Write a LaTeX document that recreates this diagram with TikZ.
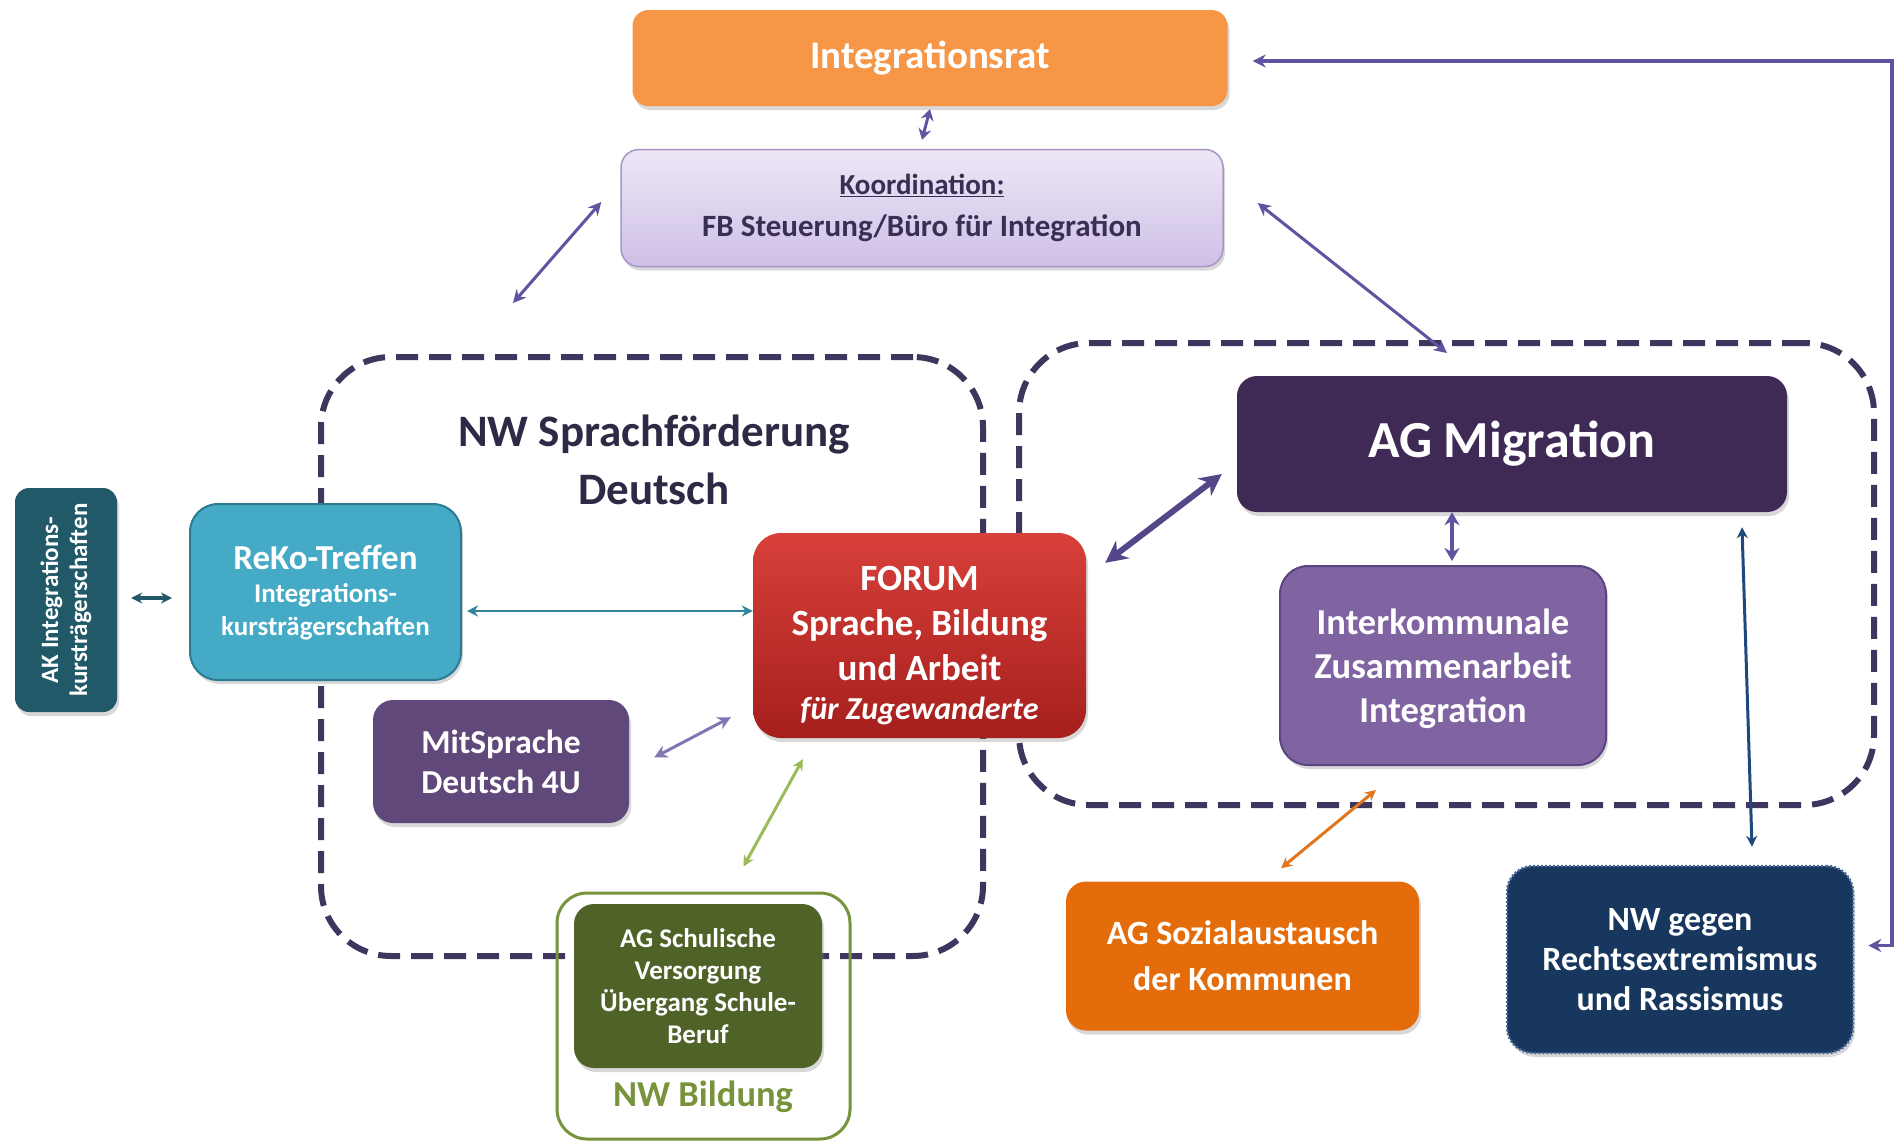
\documentclass[tikz,border=0pt]{standalone}
\usepackage{fontspec}
\setmainfont{Carlito}
\usetikzlibrary{arrows.meta,calc,shadows}
\definecolor{ratorange}{HTML}{F79646}
\definecolor{koordtop}{HTML}{EEE7F7}
\definecolor{koordbot}{HTML}{CEC0E6}
\definecolor{koordline}{HTML}{A796C8}
\definecolor{koordtext}{HTML}{3B2E55}
\definecolor{dashcol}{HTML}{3F365F}
\definecolor{migdark}{HTML}{3E2A55}
\definecolor{interkcol}{HTML}{8064A2}
\definecolor{interkline}{HTML}{5C4580}
\definecolor{forumtop}{HTML}{D8403A}
\definecolor{forumbot}{HTML}{A51F1D}
\definecolor{rekocol}{HTML}{45AAC6}
\definecolor{rekoline}{HTML}{2B7C93}
\definecolor{akcol}{HTML}{215968}
\definecolor{mitcol}{HTML}{60497A}
\definecolor{schulcol}{HTML}{4F6228}
\definecolor{bildline}{HTML}{77933C}
\definecolor{sozcol}{HTML}{E46C0A}
\definecolor{nwgcol}{HTML}{17375E}
\definecolor{nwgline}{HTML}{4A6A95}
\definecolor{arrpurple}{HTML}{6352A0}
\definecolor{arrteal}{HTML}{31849B}
\definecolor{arrgreen}{HTML}{9BBB59}
\definecolor{arrorange}{HTML}{E2761E}
\definecolor{arrnavy}{HTML}{1F497D}
\definecolor{titletext}{HTML}{2E2944}
\newcommand{\fsz}[2]{\fontsize{#1}{#2}\selectfont}
\begin{document}
\begin{tikzpicture}[x=1pt,y=-1pt,
  box/.style={rounded corners=20pt, align=center, text=white, inner sep=0pt,
    font=\bfseries, drop shadow={shadow xshift=2pt, shadow yshift=-4pt, opacity=0.3}},
  grp/.style={draw=dashcol, line width=6pt, dash pattern=on 22pt off 11pt, rounded corners=70pt, inner sep=0pt},
  arr/.style={line width=3pt, draw=arrpurple, arrows={Stealth[length=13pt,width=13pt]-Stealth[length=13pt,width=13pt]}},
  thinarr/.style={line width=2.4pt, arrows={Stealth[length=11pt,width=11pt]-Stealth[length=11pt,width=11pt]}},
  bigarr/.style={line width=6pt, draw=arrpurple!85!black, arrows={Stealth[length=22pt,width=22pt]-Stealth[length=22pt,width=22pt]}}
]
\fill[white] (0,0) rectangle (1898,1143);
\useasboundingbox (0,0) rectangle (1898,1143);

% dashed groups
\node[grp, minimum width=662pt, minimum height=599pt] (sprgrp) at (652,656.5) {};
\node[grp, minimum width=855pt, minimum height=462pt] (miggrp) at (1446.5,574) {};
\node[text=titletext, align=center, font=\bfseries\fsz{45}{58}] (sprtitle) at (654,460) {NW Sprachförderung\\Deutsch};

% top
\node[box, fill=ratorange, rounded corners=16pt, minimum width=595pt, minimum height=96pt, font=\bfseries\fsz{39}{40}] (rat) at (930,58) {Integrationsrat};
\node[box, top color=koordtop, bottom color=koordbot, draw=koordline, line width=1.5pt, rounded corners=18pt,
  minimum width=602pt, minimum height=117pt, text=koordtext, font=\bfseries\fsz{31}{42}] (koord) at (922,208)
  {{\fsz{29}{42}\underline{Koordination:}}\\FB Steuerung/Büro für Integration};

% AG Migration side
\node[box, fill=migdark, minimum width=550pt, minimum height=136pt, font=\bfseries\fsz{52}{54}] (mig) at (1512,444) {AG Migration};
\node[box, fill=interkcol, draw=interkline, line width=2pt, rounded corners=28pt, minimum width=326pt, minimum height=199pt,
  font=\bfseries\fsz{36.5}{44}] (interk) at (1443,665.5) {\rule{0pt}{32pt}Interkommunale\\Zusammenarbeit\\Integration};

% left side
\node[box, fill=akcol, rounded corners=14pt, minimum width=102pt, minimum height=224pt] (ak) at (66,600) {};
\node[rotate=90, text=white, align=center, font=\bfseries\fsz{25}{29}] (aktext) at (ak.center) {AK Integrations-\\kursträgerschaften};
\node[box, fill=rekocol, draw=rekoline, line width=2pt, rounded corners=28pt, minimum width=271pt, minimum height=176pt,
  font=\bfseries\fsz{27}{33}] (reko) at (325.5,592) {{\fsz{35}{36}ReKo-Treffen}\\Integrations-\\kursträgerschaften};
\node[box, top color=forumtop, bottom color=forumbot, rounded corners=28pt, minimum width=333pt, minimum height=205pt,
  font=\bfseries\fsz{37}{45}] (forum) at (919.5,635.5) {\rule{0pt}{44pt}FORUM\\Sprache, Bildung\\und Arbeit\\[-6pt]{\itshape\fsz{32}{36}für Zugewanderte}};
\node[box, fill=mitcol, minimum width=256pt, minimum height=123pt, font=\bfseries\fsz{33.5}{40}] (mit) at (501,761.5) {MitSprache\\Deutsch 4U};

% NW Bildung
\node[draw=bildline, line width=3pt, rounded corners=30pt, minimum width=293pt, minimum height=246pt, inner sep=0pt] (bild) at (703.5,1016) {};
\node[box, fill=schulcol, minimum width=248pt, minimum height=164pt, font=\bfseries\fsz{27}{32}] (schul) at (698,986)
  {AG Schulische\\Versorgung\\Übergang Schule-\\Beruf};
\node[text=bildline, font=\bfseries\fsz{36.5}{40}] (bildtext) at (703,1097) {NW Bildung};

% bottom right
\node[box, fill=sozcol, minimum width=353pt, minimum height=149pt, font=\bfseries\fsz{34}{46}] (soz) at (1242.5,956) {AG Sozialaustausch\\der Kommunen};
\node[box, fill=nwgcol, draw=nwgline, line width=2.5pt, dash pattern=on 2pt off 2pt, rounded corners=26pt,
  minimum width=346pt, minimum height=187pt, font=\bfseries\fsz{34}{40}] (nwg) at (1680,959.5) {NW gegen\\Rechtsextremismus\\und Rassismus};

% connectors
\coordinate (kl) at (513,303);
\coordinate (migtop) at (1447,353);
\coordinate (rc) at (1892,500);
\draw[arr, line width=3pt, arrows={Stealth[length=11pt,width=13pt]-Stealth[length=11pt,width=13pt]}] ($(rat.south)+(0,3)$) -- ($(koord.north)+(0,-9)$);
\draw[arr] (kl) -- ($(koord.west)+(-19,-6)$);
\draw[arr] ($(koord.east)+(34,-5)$) -- (migtop);
\draw[arr, line width=3.5pt] ($(nwg.east)+(14,-14)$) -| (rc) |- ($(rat.east)+(25,3)$);
\coordinate (akr) at ($(ak.east)+(14,-2)$);
\draw[thinarr, draw=akcol, line width=3.5pt] (akr) -- ($(reko.west |- akr)+(-17,0)$);
\coordinate (rf) at ($(reko.east)+(5,19)$);
\draw[thinarr, draw=arrteal] (rf) -- (forum.west |- rf);
\draw[arr, draw=arrpurple!80] ($(mit.east)+(25,-4)$) -- ($(forum.south west)+(-22,-21)$);
\draw[thinarr, draw=arrgreen, line width=3pt] ($(forum.south west)+(50,21)$) -- ($(bild.north)+(40,-25)$);
\draw[bigarr] ($(forum.north east)+(19,30)$) -- ($(mig.west)+(-15,30)$);
\coordinate (ia) at ($(interk.north)+(9,-4)$);
\draw[arr, line width=3.5pt, arrows={Stealth[length=13pt,width=15pt]-Stealth[length=13pt,width=15pt]}] (ia) -- (ia |- mig.south);
\draw[thinarr, draw=arrorange, line width=3pt] ($(interk.south)+(-67,24)$) -- ($(soz.north)+(38.5,-13)$);
\draw[thinarr, draw=arrnavy, line width=3pt] ($(mig.south)+(230,15)$) -- ($(nwg.north)+(72,-18)$);
\end{tikzpicture}
\end{document}
